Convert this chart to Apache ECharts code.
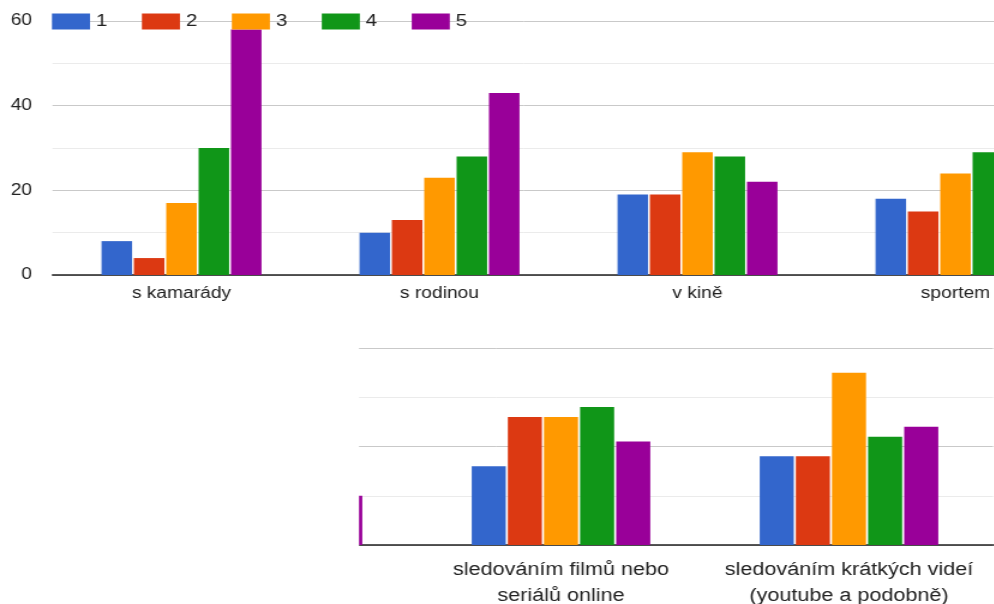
<!DOCTYPE html>
<html>
<head>
<meta charset="utf-8">
<script src="https://cdn.jsdelivr.net/npm/echarts@6/dist/echarts.min.js"></script>
<style>
  html, body { margin: 0; padding: 0; background: #fff; overflow: hidden; }
  /* the chart is laid out narrower and widened horizontally */
  #chart { width: 828.33px; height: 604px; transform: scaleX(1.2); transform-origin: 0 0; }
</style>
</head>
<body>
<div id="chart"></div>
<script>
// Activity categories (same for both panels)
const categories = [
  's kamarády',
  's rodinou',
  'v kině',
  'sportem',
  'sledováním filmů nebo\nseriálů online',
  'sledováním krátkých videí\n(youtube a podobně)'
];

// Rating series 1–5, one value per category
const rating1 = [8, 10, 19, 18, 16, 18];
const rating2 = [4, 13, 19, 15, 26, 18];
const rating3 = [17, 23, 29, 24, 26, 35];
const rating4 = [30, 28, 28, 29, 28, 22];
const rating5 = [58, 43, 22, 10, 21, 24];

const seriesNames = ['1', '2', '3', '4', '5'];
const seriesValues = [rating1, rating2, rating3, rating4, rating5];
const colors = ['#3366cc', '#dc3912', '#ff9900', '#109618', '#990099'];

const topTicks = { min: 0, max: 60, interval: 20 };
const bottomTicks = { min: 0, max: 40, interval: 20 };

const FONT = '"Liberation Sans", Arial, sans-serif';

const chart = echarts.init(document.getElementById('chart'), null, { renderer: 'canvas' });

function valueAxis(gridIndex, ticks, showLabels) {
  return {
    type: 'value',
    gridIndex: gridIndex,
    min: ticks.min,
    max: ticks.max,
    interval: ticks.interval,
    axisLine: { show: false },
    axisTick: { show: false },
    axisLabel: {
      show: showLabels,
      color: '#222',
      fontFamily: FONT,
      fontSize: 16,
      margin: 17
    },
    splitLine: { show: true, lineStyle: { color: '#c9c9c9', width: 1 } },
    minorTick: { show: false, splitNumber: 2 },
    minorSplitLine: { show: true, lineStyle: { color: '#ebebeb', width: 1 } }
  };
}

function categoryAxis(gridIndex, fontSize, margin, lineHeight) {
  return {
    type: 'category',
    gridIndex: gridIndex,
    data: categories,
    axisLine: { show: true, lineStyle: { color: '#222', width: 1.5 } },
    axisTick: { show: false },
    axisLabel: {
      color: '#222',
      fontFamily: FONT,
      fontSize: fontSize,
      margin: margin,
      lineHeight: lineHeight,
      interval: 0
    }
  };
}

const series = [];
[0, 1].forEach(function (g) {
  seriesNames.forEach(function (name, i) {
    series.push({
      type: 'bar',
      name: name,
      xAxisIndex: g,
      yAxisIndex: g,
      data: seriesValues[i],
      itemStyle: { color: colors[i] },
      barCategoryGap: '38%',
      barGap: '6%',
      emphasis: { disabled: true }
    });
  });
});

chart.setOption({
  animation: false,
  backgroundColor: '#fff',
  color: colors,
  legend: {
    data: seriesNames,
    left: 43.3,
    top: 13,
    padding: 0,
    icon: 'rect',
    itemWidth: 31.7,
    itemHeight: 16,
    itemGap: 28.8,
    textStyle: { color: '#222', fontFamily: FONT, fontSize: 17 }
  },
  grid: [
    { left: 43.75, top: 21, width: 1290, height: 254, outerBoundsMode: 'none', containLabel: false },
    { left: -612.5, top: 348, width: 1440, height: 197, outerBoundsMode: 'none', containLabel: false }
  ],
  xAxis: [
    categoryAxis(0, 16, 10, 18),
    categoryAxis(1, 18, 12, 26)
  ],
  yAxis: [
    valueAxis(0, topTicks, true),
    valueAxis(1, bottomTicks, false)
  ],
  graphic: [
    {
      // lower panel begins partway across the page
      type: 'rect',
      z: 100,
      shape: { x: 0, y: 318, width: 299.2, height: 290 },
      style: { fill: '#fff' },
      silent: true
    }
  ],
  series: series
});
</script>
</body>
</html>
